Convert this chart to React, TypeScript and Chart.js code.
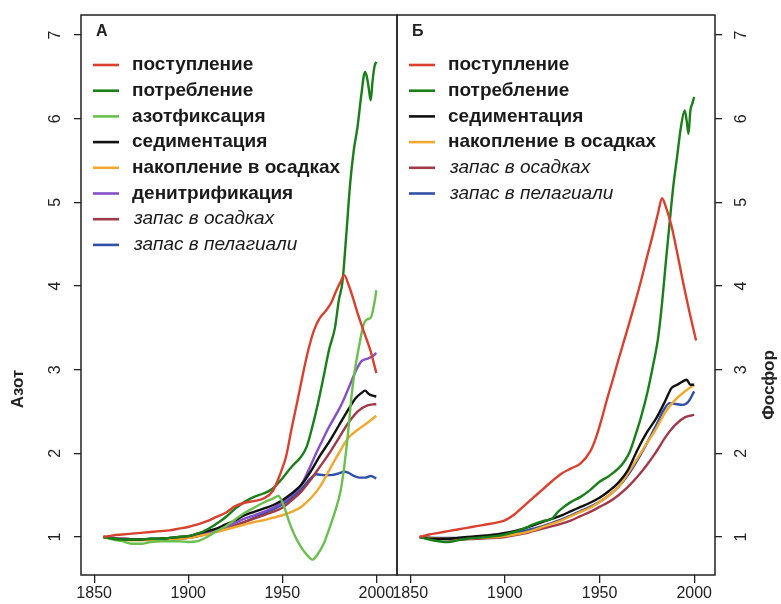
import React, { useEffect, useRef } from "react";
import { Chart, registerables } from "chart.js";

Chart.register(...registerables);

const FONT = '"Liberation Sans", Arial, Helvetica, sans-serif';

// ---- axes ----
const xMin = 1843;
const xMax = 2011;
const yMin = 0.546;
const yMax = 7.24;
const xTicks = [1850, 1900, 1950, 2000];
const yTicks = [1, 2, 3, 4, 5, 6, 7];

// ---- labels ----
const nPanelLetter = "А";
const pPanelLetter = "Б";
const nAxisTitle = "Азот";
const pAxisTitle = "Фосфор";
const nLabels = [
  "поступление",
  "потребление",
  "азотфиксация",
  "седиментация",
  "накопление в осадках",
  "денитрификация",
  "запас в осадках",
  "запас в пелагиали",
];
const pLabels = [
  "поступление",
  "потребление",
  "седиментация",
  "накопление в осадках",
  "запас в осадках",
  "запас в пелагиали",
];

// ---- nitrogen (panel А) ----
const nInputYears = [1855,1860,1865,1870,1875,1880,1885,1890,1895,1900,1905,1910,1915,1920,1925,1930,1935,1940,1945,1948,1950,1952,1955,1958,1961,1964,1967,1970,1973,1976,1979,1981,1983,1985,1987,1990,1993,1997,2000];
const nInputValues = [1.00,1.02,1.03,1.04,1.05,1.06,1.07,1.08,1.10,1.12,1.15,1.19,1.24,1.29,1.37,1.41,1.43,1.46,1.55,1.70,1.82,1.96,2.30,2.62,2.95,3.25,3.48,3.62,3.70,3.80,3.96,4.05,4.13,4.03,3.90,3.68,3.48,3.22,2.96];

const nUptakeYears = [1855,1860,1865,1870,1875,1880,1885,1890,1895,1900,1905,1910,1915,1920,1925,1930,1935,1940,1945,1950,1955,1960,1963,1966,1969,1972,1975,1978,1980,1982,1984,1986,1988,1990,1992,1994,1995,1996,1997,1998,1999,2000];
const nUptakeValues = [1.00,0.98,0.97,0.97,0.97,0.98,0.98,0.99,1.00,1.01,1.04,1.09,1.16,1.24,1.34,1.42,1.48,1.52,1.58,1.70,1.84,1.96,2.08,2.32,2.60,2.92,3.25,3.50,3.82,4.05,4.60,5.20,5.62,5.90,6.28,6.56,6.50,6.36,6.22,6.45,6.62,6.68];

const nFixationYears = [1855,1860,1865,1870,1875,1880,1885,1890,1895,1900,1905,1910,1915,1920,1925,1930,1935,1940,1945,1948,1951,1954,1957,1960,1963,1966,1969,1972,1975,1978,1981,1983,1985,1987,1989,1991,1993,1995,1997,1999,2000];
const nFixationValues = [1.00,0.97,0.95,0.92,0.92,0.94,0.95,0.95,0.95,0.94,0.95,1.00,1.07,1.13,1.21,1.29,1.35,1.41,1.46,1.49,1.36,1.16,1.00,0.88,0.79,0.73,0.80,0.92,1.10,1.30,1.55,1.85,2.25,2.72,3.05,3.30,3.52,3.60,3.62,3.80,3.95];

const nSedimentationYears = [1855,1860,1865,1870,1875,1880,1885,1890,1895,1900,1905,1910,1915,1920,1925,1930,1935,1940,1945,1950,1955,1960,1965,1970,1975,1980,1985,1989,1992,1994,1996,1998,2000];
const nSedimentationValues = [1.00,0.98,0.97,0.97,0.97,0.98,0.98,0.99,1.00,1.01,1.04,1.07,1.10,1.15,1.20,1.26,1.30,1.34,1.38,1.44,1.52,1.62,1.78,1.97,2.14,2.33,2.52,2.66,2.72,2.75,2.71,2.69,2.68];

const nBurialYears = [1855,1860,1865,1870,1875,1880,1885,1890,1895,1900,1905,1910,1915,1920,1925,1930,1935,1940,1945,1950,1955,1960,1965,1970,1975,1980,1985,1990,1995,2000];
const nBurialValues = [1.00,0.98,0.97,0.96,0.96,0.96,0.97,0.97,0.98,0.99,1.01,1.03,1.06,1.09,1.12,1.15,1.18,1.20,1.23,1.26,1.30,1.36,1.46,1.60,1.80,2.00,2.18,2.28,2.36,2.45];

const nDenitrificationYears = [1855,1860,1865,1870,1875,1880,1885,1890,1895,1900,1905,1910,1915,1920,1925,1930,1935,1940,1945,1950,1955,1960,1964,1968,1971,1974,1977,1980,1983,1986,1989,1992,1995,1998,2000];
const nDenitrificationValues = [1.00,0.98,0.97,0.97,0.97,0.97,0.98,0.98,0.99,1.00,1.02,1.05,1.08,1.12,1.17,1.22,1.26,1.30,1.35,1.41,1.50,1.62,1.80,2.00,2.14,2.28,2.40,2.52,2.66,2.82,2.98,3.10,3.13,3.16,3.20];

const nSedimentStockYears = [1855,1865,1875,1885,1895,1900,1905,1910,1915,1920,1925,1930,1935,1940,1945,1950,1955,1960,1965,1970,1975,1980,1985,1990,1995,2000];
const nSedimentStockValues = [1.00,0.98,0.97,0.97,0.98,0.99,1.01,1.04,1.07,1.10,1.14,1.18,1.22,1.26,1.30,1.35,1.44,1.54,1.68,1.84,2.00,2.18,2.36,2.50,2.57,2.59];

const nPelagicStockYears = [1855,1865,1875,1885,1895,1900,1905,1910,1915,1920,1925,1930,1935,1940,1945,1950,1955,1960,1965,1968,1972,1976,1980,1983,1985,1988,1991,1994,1997,2000];
const nPelagicStockValues = [1.00,0.98,0.97,0.97,0.98,0.99,1.01,1.04,1.07,1.10,1.14,1.18,1.23,1.28,1.33,1.39,1.47,1.57,1.70,1.75,1.74,1.74,1.76,1.78,1.77,1.73,1.71,1.71,1.73,1.70];

// ---- phosphorus (panel Б) ----
const pInputYears = [1855,1860,1865,1870,1875,1880,1885,1890,1895,1900,1905,1910,1915,1920,1925,1930,1935,1940,1945,1948,1951,1954,1957,1960,1963,1966,1969,1972,1975,1978,1981,1983,1985,1988,1991,1994,1997,2001];
const pInputValues = [1.00,1.03,1.05,1.07,1.09,1.11,1.13,1.15,1.17,1.20,1.27,1.37,1.47,1.57,1.67,1.76,1.82,1.88,2.02,2.18,2.40,2.65,2.88,3.12,3.35,3.58,3.82,4.07,4.34,4.60,4.88,5.05,4.95,4.72,4.40,4.06,3.74,3.35];

const pUptakeYears = [1855,1860,1865,1870,1875,1880,1885,1890,1895,1900,1905,1910,1915,1920,1925,1928,1930,1935,1940,1945,1950,1955,1960,1963,1966,1969,1972,1975,1978,1981,1983,1985,1987,1989,1991,1993,1995,1996,1997,1998,1999,2000];
const pUptakeValues = [1.00,0.97,0.95,0.94,0.96,0.98,0.99,1.00,1.01,1.03,1.06,1.10,1.15,1.19,1.22,1.30,1.34,1.42,1.48,1.56,1.66,1.73,1.82,1.90,2.02,2.22,2.44,2.70,3.02,3.39,3.79,4.28,4.75,5.20,5.55,5.90,6.10,5.98,5.82,6.10,6.18,6.26];

const pSedimentationYears = [1855,1860,1865,1870,1875,1880,1885,1890,1895,1900,1905,1910,1915,1920,1925,1930,1935,1940,1945,1950,1955,1960,1965,1970,1975,1980,1985,1988,1991,1994,1996,1998,2000];
const pSedimentationValues = [1.00,0.98,0.98,0.98,0.99,1.00,1.01,1.02,1.03,1.05,1.07,1.10,1.14,1.18,1.22,1.26,1.31,1.36,1.41,1.47,1.55,1.65,1.80,2.04,2.25,2.42,2.64,2.78,2.82,2.86,2.88,2.82,2.82];

const pBurialYears = [1855,1865,1875,1885,1895,1900,1905,1910,1915,1920,1925,1930,1935,1940,1945,1950,1955,1960,1965,1970,1975,1980,1985,1990,1995,2000];
const pBurialValues = [1.00,0.98,0.98,0.99,1.00,1.01,1.03,1.05,1.08,1.12,1.16,1.20,1.25,1.30,1.35,1.42,1.50,1.60,1.76,1.94,2.12,2.30,2.50,2.64,2.74,2.82];

const pSedimentStockYears = [1855,1865,1875,1885,1895,1900,1905,1910,1915,1920,1925,1930,1935,1940,1945,1950,1955,1960,1965,1970,1975,1980,1985,1990,1995,2000];
const pSedimentStockValues = [1.00,0.98,0.97,0.98,0.99,1.00,1.02,1.04,1.07,1.10,1.13,1.16,1.20,1.25,1.30,1.36,1.42,1.50,1.60,1.72,1.86,2.02,2.20,2.34,2.43,2.46];

const pPelagicStockYears = [1855,1865,1875,1885,1895,1900,1905,1910,1915,1920,1925,1930,1935,1940,1945,1950,1955,1960,1965,1970,1975,1980,1984,1987,1990,1994,1997,2000];
const pPelagicStockValues = [1.00,0.99,0.99,1.00,1.02,1.03,1.05,1.07,1.10,1.13,1.17,1.21,1.26,1.31,1.36,1.42,1.50,1.60,1.74,1.92,2.12,2.34,2.52,2.60,2.59,2.58,2.62,2.74];

// ---- colours ----
const cRed = "#d8412f";
const cDarkGreen = "#1a7f1a";
const cLightGreen = "#6bbf4e";
const cBlack = "#111111";
const cOrange = "#f0a830";
const cPurple = "#8450c8";
const cMaroon = "#a03a4a";
const cBlue = "#3050a8";

function pts(xs: number[], ys: number[]) {
  return xs.map((x, i) => ({ x, y: ys[i] }));
}

function ds(label: string, xs: number[], ys: number[], color: string, italic = false) {
  return {
    label,
    data: pts(xs, ys),
    borderColor: color,
    backgroundColor: color,
    borderWidth: 2.4,
    pointRadius: 0,
    fill: false,
    cubicInterpolationMode: "monotone" as const,
    italic,
  };
}

const decorPlugin = {
  id: "panelDecor",
  afterDraw(chart: any) {
    const o = chart.options.plugins.panelDecor;
    const { ctx, chartArea: a, scales } = chart;
    ctx.save();
    // box
    ctx.strokeStyle = "#222";
    ctx.lineWidth = 1.5;
    ctx.strokeRect(a.left, a.top, a.right - a.left, a.bottom - a.top);

    // rotated y tick labels
    ctx.fillStyle = "#222";
    ctx.font = `16px ${FONT}`;
    ctx.textAlign = "center";
    ctx.textBaseline = "middle";
    const tx = o.side === "left" ? a.left - 25 : a.right + 27;
    for (const v of yTicks) {
      const py = scales.y.getPixelForValue(v);
      ctx.save();
      ctx.translate(tx, py);
      ctx.rotate(-Math.PI / 2);
      ctx.fillText(String(v), 0, 0);
      ctx.restore();
    }

    // axis title
    ctx.font = `bold 17px ${FONT}`;
    const ttx = o.side === "left" ? a.left - 63 : a.right + 54;
    ctx.save();
    ctx.translate(ttx, o.titleY);
    ctx.rotate(-Math.PI / 2);
    ctx.fillText(o.title, 0, 0);
    ctx.restore();

    // panel letter
    ctx.textAlign = "left";
    ctx.font = `bold 16px ${FONT}`;
    ctx.fillText(o.letter, a.left + 15, a.top + 17);

    // legend
    const rowH = 25.7;
    chart.data.datasets.forEach((d: any, i: number) => {
      const y = a.top + 50 + i * rowH;
      ctx.strokeStyle = d.borderColor;
      ctx.lineWidth = 2.6;
      ctx.beginPath();
      ctx.moveTo(a.left + 12, y);
      ctx.lineTo(a.left + 38, y);
      ctx.stroke();
      ctx.fillStyle = "#1a1a1a";
      ctx.font = d.italic ? `italic 19px ${FONT}` : `bold 19px ${FONT}`;
      ctx.fillText(d.label, a.left + (d.italic ? 53 : 51), y);
    });
    ctx.restore();
  },
};

function makeConfig(datasets: any[], side: "left" | "right", letter: string, title: string, titleY: number) {
  return {
    type: "line" as const,
    data: { datasets },
    options: {
      animation: false as const,
      responsive: false,
      devicePixelRatio: 1,
      layout: {
        padding:
          side === "left"
            ? { left: 0, right: 3, top: 15, bottom: 0 }
            : { left: 7, right: 0, top: 15, bottom: 0 },
      },
      plugins: {
        legend: { display: false },
        tooltip: { enabled: false },
        panelDecor: { side, letter, title, titleY },
      },
      scales: {
        x: {
          type: "linear" as const,
          min: xMin,
          max: xMax,
          position: "bottom" as const,
          afterBuildTicks: (s: any) => {
            s.ticks = xTicks.map((v) => ({ value: v }));
          },
          afterFit: (s: any) => {
            s.height = 29;
          },
          grid: { drawOnChartArea: false, drawTicks: true, tickLength: 8, color: "#222", lineWidth: 1.3 },
          border: { display: false },
          ticks: {
            font: { size: 16, family: FONT },
            color: "#222",
            padding: 1,
            maxRotation: 0,
            autoSkip: false,
            callback: (v: any) => String(v),
          },
        },
        y: {
          type: "linear" as const,
          min: yMin,
          max: yMax,
          position: side,
          afterBuildTicks: (s: any) => {
            s.ticks = yTicks.map((v) => ({ value: v }));
          },
          afterFit: (s: any) => {
            s.width = side === "left" ? 81 : 66;
          },
          grid: { drawOnChartArea: false, drawTicks: true, tickLength: 7, color: "#222", lineWidth: 1.3 },
          border: { display: false },
          ticks: { display: false },
        },
      },
    },
    plugins: [decorPlugin],
  };
}

export default function App() {
  const leftRef = useRef<HTMLCanvasElement>(null);
  const rightRef = useRef<HTMLCanvasElement>(null);

  useEffect(() => {
    const nData = [
      ds(nLabels[0], nInputYears, nInputValues, cRed),
      ds(nLabels[1], nUptakeYears, nUptakeValues, cDarkGreen),
      ds(nLabels[2], nFixationYears, nFixationValues, cLightGreen),
      ds(nLabels[3], nSedimentationYears, nSedimentationValues, cBlack),
      ds(nLabels[4], nBurialYears, nBurialValues, cOrange),
      ds(nLabels[5], nDenitrificationYears, nDenitrificationValues, cPurple),
      ds(nLabels[6], nSedimentStockYears, nSedimentStockValues, cMaroon, true),
      ds(nLabels[7], nPelagicStockYears, nPelagicStockValues, cBlue, true),
    ];
    const pData = [
      ds(pLabels[0], pInputYears, pInputValues, cRed),
      ds(pLabels[1], pUptakeYears, pUptakeValues, cDarkGreen),
      ds(pLabels[2], pSedimentationYears, pSedimentationValues, cBlack),
      ds(pLabels[3], pBurialYears, pBurialValues, cOrange),
      ds(pLabels[4], pSedimentStockYears, pSedimentStockValues, cMaroon, true),
      ds(pLabels[5], pPelagicStockYears, pPelagicStockValues, cBlue, true),
    ];
    const c1 = new Chart(leftRef.current as HTMLCanvasElement, makeConfig(nData, "left", nPanelLetter, nAxisTitle, 389) as any);
    const c2 = new Chart(rightRef.current as HTMLCanvasElement, makeConfig(pData, "right", pPanelLetter, pAxisTitle, 385) as any);
    return () => {
      c1.destroy();
      c2.destroy();
    };
  }, []);

  return (
    <div style={{ position: "fixed", left: 0, top: 0, width: 781, height: 604, background: "#fff", overflow: "hidden" }}>
      <canvas ref={leftRef} width={400} height={604} style={{ position: "absolute", left: 0, top: 0, width: 400, height: 604 }} />
      <canvas ref={rightRef} width={391} height={604} style={{ position: "absolute", left: 390, top: 0, width: 391, height: 604 }} />
    </div>
  );
}
